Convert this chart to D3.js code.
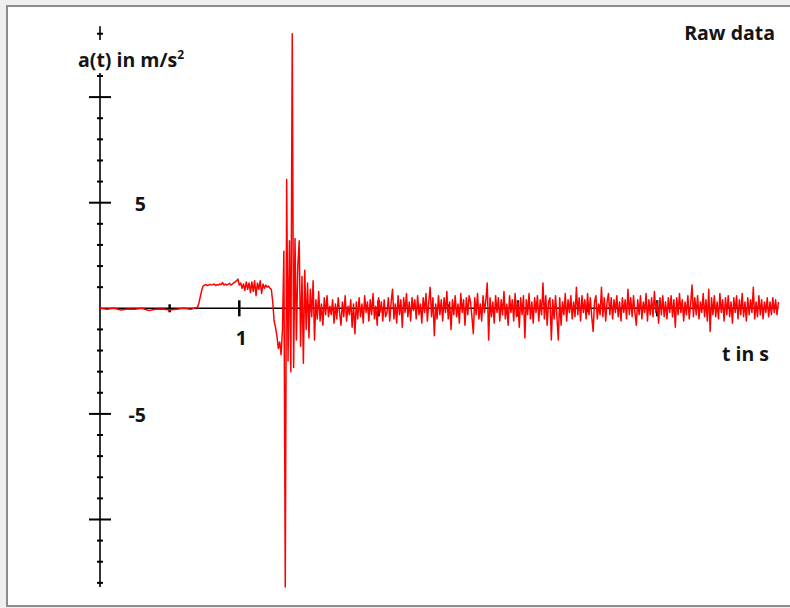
<!DOCTYPE html>
<html>
<head>
<meta charset="utf-8">
<script src="https://cdn.jsdelivr.net/npm/d3@7"></script>
<style>
  html, body { margin: 0; padding: 0; background: #efefef; }
  svg { display: block; }
  .lbl { font-family: "Open Sans", sans-serif; font-weight: 700; font-size: 19.5px; fill: #141414; }
</style>
</head>
<body>
<div id="chart"><svg></svg></div>
<script>
// acceleration sensor, raw samples (m/s^2)
// quiet phase, sampled every 0.05 s starting at t = 0
var quietStart = 0, quietStep = 0.05;
var quietVals = [0, -0.05, 0, -0.08, -0.03, -0.05, 0, -0.1, -0.05, -0.03, -0.08, -0.05, 0, -0.05];

// everything after that is sampled every 0.01 s
var sampleStep = 0.01;

// push phase, t = 0.70 .. 1.22
var riseStart = 0.70;
var riseVals = [0.05, 0.25, 0.55, 0.85, 1.05, 1.1, 1.12, 1.08, 1.1, 1.13,
                1.1, 1.12, 1.15, 1.08, 1.12, 1.1, 1.15, 1.12, 1.22, 1.1,
                1.15, 1.1, 1.14, 1.18, 1.1, 1.15, 1.2, 1.25, 1.3, 1.38,
                1.1, 1.2, 0.95, 1.15, 0.85, 1.25, 0.9, 1.2, 0.75, 1.25,
                0.8, 1.3, 0.6, 1.2, 0.9, 1.3, 0.7, 1.15, 0.95, 1.1,
                1.0, 1.05, 0.95];

// impact, t = 1.23 .. 1.65
var impactStart = 1.23;
var impactVals = [0.9, 0.3, -0.6, -0.9, -1.3, -1.9, -1.6, -2.2, -1.0, 2.7,
                  -13.2, 6.1, -2.5, 3.2, -3.0, 13.0, -2.8, 3.3, -1.5, 2.0,
                  3.2, -1.8, 1.5, -2.6, 1.8, -1.0, 1.2, -1.4, 0.9, -0.4,
                  1.3, -1.5, 0.4, -0.5, 0.8, -0.6, 0.2, -0.8, 0.5, -0.3,
                  0.6, -0.4, 0.1];

// sensor noise afterwards, t = 1.66 .. 4.87
var noiseStart = 1.66;
var noiseVals = [
  -0.3, 0.4, -0.7, 0.2, -0.5, 0.5, -0.2, -0.8, 0.3, -0.4, 0.6, -0.6, 0.1, -0.3, 0.4, -0.9, 0.2, -1.2, 0.3, -0.5,
  0.5, -0.4, 0.2, -0.7, 0.6, -0.2, 0.3, -0.6, 0.4, -0.3, 0.7, -0.5, 0.1, -0.8, 0.5, -0.2, 0.3, -0.6, 0.4, -0.4,
  -0.2, 0.5, -0.6, 0.3, 0.9, -0.5, 0.2, -0.7, 0.6, -0.3, 0.4, -0.9, 0.5, -0.2, 0.7, -0.4, 0.3, -0.6, 0.5, -0.1,
  0.4, -0.5, 0.6, -0.3, 0.2, -0.7, 0.5, -0.2, 0.7, -0.6, 0.3, 1.0, -0.4, 0.5, -1.3, 0.2, -0.5, 0.6, -0.3, 0.4,
  -0.6, 0.5, -0.2, 0.8, -0.5, 0.3, -1.0, 0.4, -0.3, 0.6, -0.4, 0.2, -0.7, 0.7, -0.2, 0.4, -0.8, 0.5, -0.3, 0.6,
  0.3, -0.4, -1.2, 0.5, -0.3, 0.7, -0.5, 0.2, -0.6, 0.6, -0.2, 0.4, 1.2, -1.5, 0.5, -0.4, 0.3, -0.7, 0.6, -0.2,
  0.5, -0.6, 0.4, -0.3, 0.8, -0.5, 0.2, -0.8, 0.6, -0.2, 0.4, -0.6, 0.7, -0.4, 0.3, -0.9, 0.5, -0.3, 0.6, -1.4,
  0.4, -0.3, 0.7, -0.5, 0.3, -0.7, 0.5, -0.2, 0.6, -0.6, 0.4, -0.3, 1.2, -0.5, 0.6, -0.8, 0.3, 0.5, -1.5, 0.4,
  -0.5, 0.6, -0.4, -1.5, 0.5, -0.8, 0.3, -0.3, 0.7, -0.6, 0.4, -0.2, 0.6, -0.5, 0.3, -0.4, 1.0, -0.3, 0.5, -0.6,
  0.6, -0.2, 0.4, -0.5, 0.7, -0.3, 0.5, -0.4, -1.1, 0.3, 0.6, -0.5, 0.2, -0.3, 1.0, -0.4, 0.5, -0.6, 0.3, 0.7,
  -0.3, 0.5, -0.5, 0.4, -0.2, 0.6, -0.4, 0.3, -0.6, 0.5, -0.2, 0.4, -0.5, 0.9, -0.3, 0.5, -0.4, 0.6, -0.2, -0.8,
  0.4, -0.3, 0.6, -0.5, 0.3, -0.2, 0.7, -0.6, 0.4, -0.3, 0.5, -0.4, 0.8, -0.2, 0.3, -0.7, 0.5, -0.3, 0.6, -0.4,
  0.3, -0.5, 0.5, -0.2, 0.6, -0.4, 0.4, -0.9, 0.5, -0.3, 0.7, -0.2, 0.4, -0.6, 0.3, -0.3, 0.6, -0.5, 0.2, 1.1,
  -0.4, 0.5, -0.3, 0.6, -0.5, 0.3, -0.2, 0.7, -0.4, 0.4, -0.6, 0.9, -1.1, 0.5, -0.3, 0.6, -0.4, 0.3, -0.5, 0.7,
  -0.2, 0.4, -0.6, 0.5, -0.3, 0.6, -0.4, 0.3, -0.7, 0.5, -0.2, 0.6, -0.5, 0.4, -0.3, 0.7, -0.4, 0.3, -0.6, 0.5,
  -0.3, 0.4, -0.2, 1.0, -0.5, 0.3, -0.4, 0.6, -0.3, 0.4, -0.5, 0.3, -0.2, 0.5, -0.4, 0.3, -0.3, 0.5, -0.2, 0.4,
  -0.3, 0.3
];

// axis ticks
var xTicks = [0.5, 1, 1.5, 2, 2.5, 3, 3.5, 4];
var xLabels = [1];
var yTicks = [-13, -12, -11, -10, -9, -8, -7, -6, -5, -4, -3, -2, -1,
              1, 2, 3, 4, 5, 6, 7, 8, 9, 10, 11, 13];
var yMajor = [-10, -5, 5, 10];
var yLabels = [5, -5];

var W = 790, H = 608;
var svg = d3.select('#chart').select('svg')
    .attr('width', W)
    .attr('height', H);

// frame
svg.append('rect')
    .attr('x', 7).attr('y', 6)
    .attr('width', 784).attr('height', 600)
    .attr('fill', '#fff')
    .attr('stroke', '#8c8c8c')
    .attr('stroke-width', 2);

var x = d3.scaleLinear().domain([0, 1]).range([100, 239.3]);
var y = d3.scaleLinear().domain([0, 5]).range([308.3, 202.7]);

// build samples
function segment(start, step, vals) {
    return vals.map(function (v, i) { return { t: start + i * step, v: v }; });
}
var samples = segment(quietStart, quietStep, quietVals)
    .concat(segment(riseStart, sampleStep, riseVals))
    .concat(segment(impactStart, sampleStep, impactVals))
    .concat(segment(noiseStart, sampleStep, noiseVals));

var axes = svg.append('g');

// x axis
axes.append('line')
    .attr('x1', x(0)).attr('x2', x(4.87))
    .attr('y1', y(0)).attr('y2', y(0))
    .attr('stroke', '#000').attr('stroke-width', 1.6);

axes.selectAll('line.xt').data(xTicks).enter()
    .append('line').attr('class', 'xt')
    .attr('x1', function (d) { return x(d); })
    .attr('x2', function (d) { return x(d); })
    .attr('y1', function (d) { return y(0) - (d % 1 === 0 ? 8 : 4); })
    .attr('y2', function (d) { return y(0) + (d % 1 === 0 ? 8 : 4); })
    .attr('stroke', '#000').attr('stroke-width', 2.5);

// y axis
axes.append('line')
    .attr('x1', x(0)).attr('x2', x(0))
    .attr('y1', y(13.35)).attr('y2', y(-13.2))
    .attr('stroke', '#000').attr('stroke-width', 1.6);

axes.selectAll('line.yt').data(yTicks).enter()
    .append('line').attr('class', 'yt')
    .attr('x1', function (d) { return x(0) - (yMajor.indexOf(d) >= 0 ? 11 : 3); })
    .attr('x2', function (d) { return x(0) + (yMajor.indexOf(d) >= 0 ? 11 : 3); })
    .attr('y1', function (d) { return y(d); })
    .attr('y2', function (d) { return y(d); })
    .attr('stroke', '#000').attr('stroke-width', 2);

// the signal
var line = d3.line()
    .x(function (d) { return x(d.t); })
    .y(function (d) { return y(d.v); });

svg.append('path')
    .datum(samples)
    .attr('d', line)
    .attr('fill', 'none')
    .attr('stroke', '#ff0000')
    .attr('stroke-width', 1.5)
    .attr('stroke-linejoin', 'round');

// labels
svg.selectAll('text.yl').data(yLabels).enter()
    .append('text').attr('class', 'lbl yl')
    .attr('x', 146)
    .attr('y', function (d) { return y(d) + 8; })
    .attr('text-anchor', 'end')
    .text(function (d) { return d; });

svg.selectAll('text.xl').data(xLabels).enter()
    .append('text').attr('class', 'lbl xl')
    .attr('x', function (d) { return x(d) + 2; })
    .attr('y', y(0) + 37)
    .attr('text-anchor', 'middle')
    .text(function (d) { return d; });

svg.append('text').attr('class', 'lbl')
    .attr('x', 769).attr('y', 361)
    .attr('text-anchor', 'end')
    .text('t in s');

svg.append('text').attr('class', 'lbl')
    .attr('x', 775).attr('y', 40)
    .attr('text-anchor', 'end')
    .text('Raw data');

// y axis title sits on a white patch that interrupts the axis
var ytitle = svg.append('text').attr('class', 'lbl')
    .attr('x', 78).attr('y', 67);
ytitle.append('tspan').text('a(t) in m/s');
ytitle.append('tspan').attr('dy', -8).attr('font-size', 12).text('2');
var bb = ytitle.node().getBBox();
svg.insert('rect', 'text')
    .attr('x', bb.x - 2).attr('y', 40)
    .attr('width', bb.width + 4).attr('height', 33)
    .attr('fill', '#fff');
</script>
</body>
</html>
